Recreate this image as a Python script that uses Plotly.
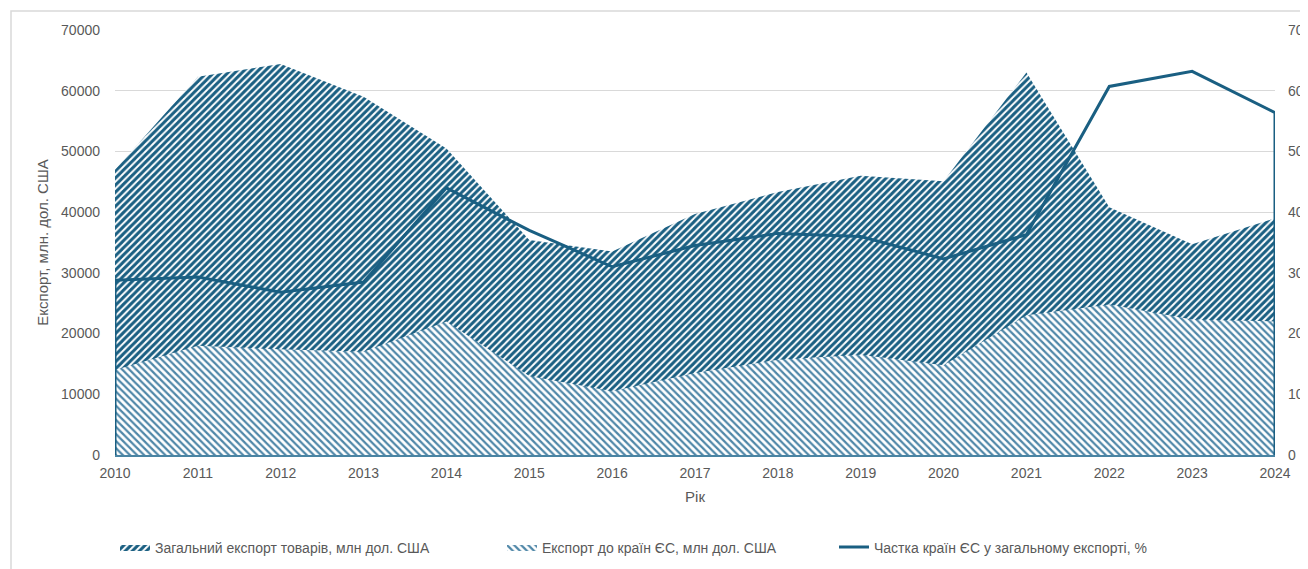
import plotly.graph_objects as go

years = list(range(2010, 2025))
total_export = [47000, 62300, 64400, 59000, 50500, 35400, 33500, 39700, 43300, 46000, 45100, 63000, 40800, 34700, 39000]
eu_export = [14000, 18000, 17400, 17000, 22000, 13000, 10500, 13500, 15700, 16500, 14800, 23000, 24800, 22300, 22000]
eu_share = [28.8, 29.3, 26.8, 28.5, 44.0, 37.0, 31.0, 34.5, 36.5, 36.0, 32.3, 36.3, 60.7, 63.2, 56.4]

name_total = "Загальний експорт товарів, млн дол. США"
name_eu = "Експорт до країн ЄС, млн дол. США"
name_share = "Частка країн ЄС у загальному експорті, %"

dark = "#1a5f82"
light = "#4f87a8"
font = "Liberation Sans"
grey = "#595959"

fig = go.Figure()
fig.add_trace(go.Scatter(
    x=years, y=total_export, name=name_total, mode="lines", legend="legend",
    line=dict(width=0, color=dark), fill="tozeroy", fillcolor="rgba(0,0,0,0)",
    fillpattern=dict(shape="/", fgcolor=dark, bgcolor="white", size=5, solidity=0.6, fgopacity=1),
))
fig.add_trace(go.Scatter(
    x=years, y=eu_export, name=name_eu, mode="lines", legend="legend2",
    line=dict(width=0, color=light), fill="tozeroy", fillcolor="rgba(0,0,0,0)",
    fillpattern=dict(shape="\\", fgcolor=light, bgcolor="white", size=5, solidity=0.45, fgopacity=1),
))
share_x = [years[0]] + years + [years[-1]]
share_y = [0] + eu_share + [0]
fig.add_trace(go.Scatter(
    x=share_x, y=share_y, name=name_share, mode="lines", yaxis="y2", legend="legend3",
    line=dict(width=3, color=dark),
))

W, H = 1308, 569
L, R, T, B = 107, 41, 22, 122
PW = W - L - R


def leg(text_left_px):
    return dict(orientation="h", x=(text_left_px - 8 - 40 - L) / PW, xanchor="left",
                y=-0.18, yanchor="top",
                font=dict(family=font, size=14, color=grey))


fig.update_layout(
    width=W, height=H,
    margin=dict(l=L, r=R, t=T, b=B, autoexpand=False),
    plot_bgcolor="white", paper_bgcolor="white",
    font=dict(family=font, size=14, color=grey),
    showlegend=True,
    legend=leg(155),
    legend2=leg(542),
    legend3=leg(874),
    xaxis=dict(range=[2010, 2024], tickmode="array", tickvals=years,
               ticktext=[str(y) for y in years], showgrid=False, zeroline=False,
               showline=True, linecolor="#4a84a3", linewidth=2, automargin=False,
               title=dict(text="Рік", font=dict(size=15, color=grey), standoff=12),
               ticks="", ticklabelstandoff=4),
    yaxis=dict(range=[0, 70000], tickvals=list(range(0, 70001, 10000)),
               ticktext=[str(v) for v in range(0, 70001, 10000)],
               showgrid=True, gridcolor="#d9d9d9", gridwidth=1, zeroline=False,
               automargin=False,
               title=dict(text="Експорт, млн. дол. США", font=dict(size=15, color=grey), standoff=8),
               ticks="", ticklabelstandoff=14),
    yaxis2=dict(range=[0, 70], tickvals=list(range(0, 71, 10)), overlaying="y",
                side="right", showgrid=False, zeroline=False, ticks="",
                automargin=False, ticklabelstandoff=12),
    shapes=[dict(type="rect", xref="paper", yref="paper",
                 x0=(3 - L) / PW, x1=1.2, y0=-0.5, y1=(H - B - 3) / (H - T - B),
                 line=dict(color="#d9d9d9", width=1.5), layer="below")],
)

fig.write_html("out.html")
